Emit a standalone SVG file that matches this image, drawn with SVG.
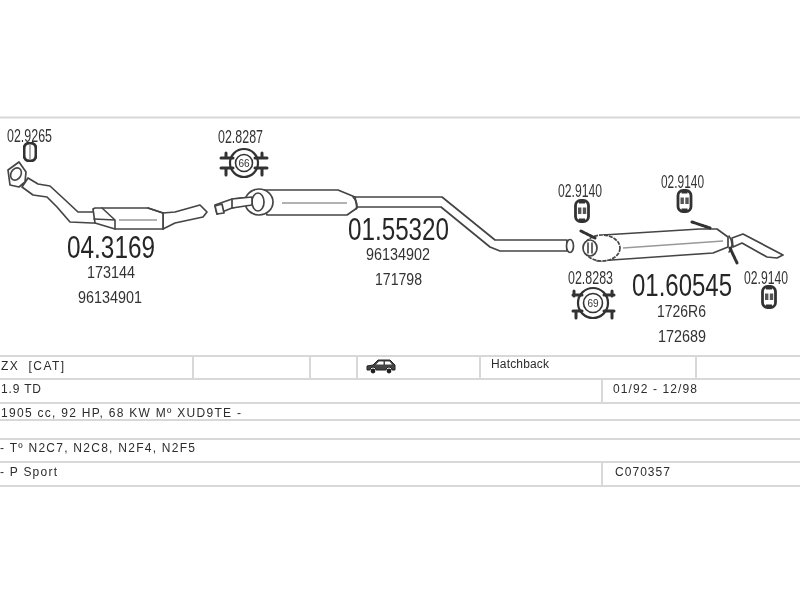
<svg xmlns="http://www.w3.org/2000/svg" width="800" height="600" viewBox="0 0 800 600">
<style>
text{font-family:"Liberation Sans",Arial,sans-serif;fill:#333}
.ref{font-size:19px}
.big{font-size:32px;fill:#262626}
.sub{font-size:17px}
.row{font-size:12px;fill:#2c2c2c}
.rule{stroke:#d8d8d8;stroke-width:2;fill:none}
.p{fill:#fff;stroke:#444;stroke-width:1.700;stroke-linejoin:round}
.n{fill:none;stroke:#444;stroke-width:1.600;stroke-linecap:round;stroke-linejoin:round}
.l{fill:none;stroke:#999;stroke-width:1.300}
.h{fill:none;stroke:#333;stroke-width:3;stroke-linecap:round}
.soft{filter:url(#soft)}
</style>
<defs>
<filter id="soft" x="-5%" y="-5%" width="110%" height="110%"><feGaussianBlur stdDeviation="0.4"/></filter>
<g id="hanger"><rect x="-6.500" y="-10.500" width="13" height="21" rx="5" fill="#fff" stroke="#333" stroke-width="2.800"/><rect x="-4" y="-3.500" width="3.400" height="6.500" fill="#555"/><rect x="0.800" y="-3.500" width="3.400" height="6.500" fill="#555"/><path d="M-3-8.500h6M-3 8.500h6" stroke="#333" stroke-width="2"/></g>
</defs>
<rect width="800" height="600" fill="#fff"/>
<g id="table">
<path class="rule" d="M0 117.500H800M0 356H800M0 379H800M0 403H800M0 420H800M0 439H800M0 462H800M0 486H800"/>
<path class="rule" d="M193 356V379M310 356V379M357 356V379M480 356V379M696 356V379M602 379V403M602 462V486"/>
</g>
<g id="connectors" class="soft">
<path id="cat-pipe" class="p" d="M28 178L38 184L50 186L63 198L78 212H95V223H92L70 222L57 207L47 197L33 195L22 187Z"/>
<path id="pipe-out" class="p" d="M163 213L175 212L200 205L207 212L203 217L175 223L163 229Z"/>
<path id="pipe-mid" class="p" d="M215 205L232 199L250 197V204L232 208L217 214Z"/>
<path id="pipe-long" class="p" d="M350 197H442L495 240H567V251H500L490 247L441 207H350Z"/>
</g>
<g id="part-043169" class="soft">
<path class="p" d="M8 170L19 162L26 172L25 182L19 187L10 185Z"/>
<ellipse class="n" cx="16" cy="174" rx="5" ry="6.500" transform="rotate(30 16 174)"/>
<path class="p" d="M93 209L95 208H148L163 213V229H115L95 223Z"/>
<path class="n" d="M102 208L115 220V229M94 219L115 220M148 208L163 213"/>
<path class="l" d="M119 220H157"/>
<path class="p" d="M215 206L222 204L224 213L217 214Z"/>
</g>
<g id="gasket-029265" class="soft">
<rect x="24" y="143" width="12" height="18" rx="5.500" fill="#fff" stroke="#333" stroke-width="3"/>
<path d="M30 145V159" stroke="#777" stroke-width="1.200"/>
</g>
<g id="clamp-028287" class="soft">
<path class="h" d="M221 158H233M221 168H233M255 158H267M255 168H267M226 153V158M262 153V158M226 168V175M262 168V175"/>
<circle cx="244" cy="163" r="14" fill="none" stroke="#333" stroke-width="2.200"/>
<circle cx="244" cy="163" r="8.500" fill="#fff" stroke="#333" stroke-width="1.600"/>
<text x="244" y="167" font-size="10" text-anchor="middle">66</text>
</g>
<g id="part-0155320" class="soft">
<path class="p" d="M257 190H338L355 197L357 208L347 215H267Z"/>
<path class="l" d="M282 203H347"/>
<ellipse class="p" cx="259" cy="202" rx="14" ry="13" stroke-width="2.200"/>
<ellipse class="p" cx="258" cy="202" rx="6" ry="9"/>
<path class="p" d="M232 199L252 197V205L232 208Z"/>
<path class="n" d="M353 197C357 201 358 206 356 209"/>
</g>
<g id="part-0160545" class="soft">
<ellipse class="p" cx="570" cy="246" rx="3.500" ry="6.500"/>
<path class="p" d="M603 235L700 229H717L728 237V247L713 253L597 261Z"/>
<ellipse class="p" cx="602" cy="248" rx="18" ry="13" stroke-width="2.400" stroke-dasharray="4 1"/>
<ellipse class="p" cx="590" cy="248" rx="7" ry="8" stroke-width="2"/>
<path class="n" d="M588 243V253M592 243V253"/>
<path class="l" d="M623 248L723 241"/>
<path class="p" d="M732 238L743 234L783 255L777 258L767 257L742 243L733 247Z"/>
<path class="n" d="M729 236C733 241 733 248 729 252"/>
<path class="h" d="M581 231L595 238M692 222L710 228M730 248L737 263" stroke-dasharray="3 1.500"/>
</g>
<g id="clamp-028283" class="soft">
<path class="h" d="M573 295H582M573 311H582M604 295H614M604 311H614M574 291V296M612 291V296M576 311V318M612 311V318"/>
<circle cx="593" cy="303" r="15" fill="none" stroke="#333" stroke-width="2.200"/>
<circle cx="593" cy="303" r="9.500" fill="#fff" stroke="#333" stroke-width="1.600"/>
<text x="593" y="307" font-size="10" text-anchor="middle">69</text>
</g>
<g id="hangers" class="soft">
<use href="#hanger" x="582" y="211"/>
<use href="#hanger" x="684.500" y="201"/>
<use href="#hanger" x="769" y="297"/>
</g>
<g id="car-icon">
<path d="M367 370V366L373 365L378 360H390L395 365V370H392A3 3 0 0 0 386 370H376A3 3 0 0 0 370 370Z" fill="#444" stroke="#222" stroke-width="1"/>
<path d="M376 364.500L379 361.500H383.500V364.500ZM385 361.500H389.500L392 364.500H385Z" fill="#fff"/>
<circle cx="373" cy="371" r="2.400" fill="#222"/><circle cx="389" cy="371" r="2.400" fill="#222"/>
</g>
<g id="labels">
<text class="ref" x="7" y="142" textLength="45" lengthAdjust="spacingAndGlyphs">02.9265</text>
<text class="ref" x="218" y="143" textLength="45" lengthAdjust="spacingAndGlyphs">02.8287</text>
<text class="big" x="67" y="258" textLength="88" lengthAdjust="spacingAndGlyphs">04.3169</text>
<text class="sub" x="87" y="278" textLength="48" lengthAdjust="spacingAndGlyphs">173144</text>
<text class="sub" x="78" y="303" textLength="64" lengthAdjust="spacingAndGlyphs">96134901</text>
<text class="big" x="348" y="240" textLength="101" lengthAdjust="spacingAndGlyphs">01.55320</text>
<text class="sub" x="366" y="260" textLength="64" lengthAdjust="spacingAndGlyphs">96134902</text>
<text class="sub" x="375" y="285" textLength="47" lengthAdjust="spacingAndGlyphs">171798</text>
<text class="ref" x="558" y="197" textLength="44" lengthAdjust="spacingAndGlyphs">02.9140</text>
<text class="ref" x="661" y="188" textLength="43" lengthAdjust="spacingAndGlyphs">02.9140</text>
<text class="ref" x="568" y="284" textLength="45" lengthAdjust="spacingAndGlyphs">02.8283</text>
<text class="big" x="632" y="296" textLength="100" lengthAdjust="spacingAndGlyphs">01.60545</text>
<text class="ref" x="744" y="284" textLength="44" lengthAdjust="spacingAndGlyphs">02.9140</text>
<text class="sub" x="657" y="317" textLength="49" lengthAdjust="spacingAndGlyphs">1726R6</text>
<text class="sub" x="658" y="342" textLength="48" lengthAdjust="spacingAndGlyphs">172689</text>
<text class="row" x="1" y="370" textLength="63" xml:space="preserve">ZX  [CAT]</text>
<text class="row" x="1" y="393" textLength="40">1.9 TD</text>
<text class="row" x="1" y="417" textLength="240">1905 cc, 92 HP, 68 KW Mº XUD9TE -</text>
<text class="row" x="0" y="452" textLength="195">- Tº N2C7, N2C8, N2F4, N2F5</text>
<text class="row" x="0" y="476" textLength="57">- P Sport</text>
<text class="row" x="491" y="368" textLength="58">Hatchback</text>
<text class="row" x="613" y="393" textLength="84">01/92 - 12/98</text>
<text class="row" x="615" y="476" textLength="55">C070357</text>
</g>
</svg>
